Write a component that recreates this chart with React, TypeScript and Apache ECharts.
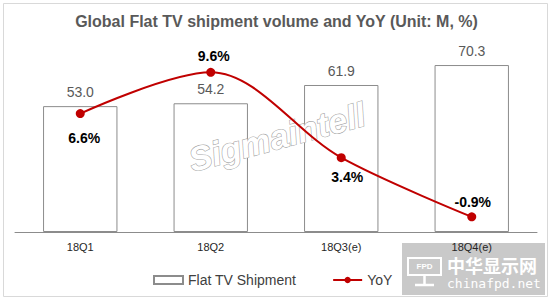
import React, { useEffect, useRef } from "react";
import * as echarts from "echarts";

const categories = ["18Q1", "18Q2", "18Q3(e)", "18Q4(e)"];
const shipment = [53.0, 54.2, 61.9, 70.3];
const yoy = [6.6, 9.6, 3.4, -0.9];

const FONT = "'Liberation Sans', Arial, sans-serif";

// label styling for each YoY point (style only)
const yoyLabelStyle = [
  { position: "bottom", distance: 13, offset: [4, 0] },
  { position: "top", distance: 5, offset: [3, 0] },
  { position: "bottom", distance: 8, offset: [6, 0] },
  { position: "top", distance: 3, offset: [1, 0] },
];

export default function App() {
  const ref = useRef<HTMLDivElement>(null);
  useEffect(() => {
    document.body.style.margin = "0";
    const chart = echarts.init(ref.current!, null, { renderer: "svg" });
    chart.setOption({
      animation: false,
      backgroundColor: "#ffffff",
      title: {
        text: "Global Flat TV shipment volume and YoY (Unit: M, %)",
        left: "center",
        top: 8,
        textStyle: { fontFamily: FONT, fontSize: 16, fontWeight: "bold", color: "#595959" },
      },
      legend: {
        left: 153,
        top: 273,
        padding: 0,
        itemWidth: 29,
        itemHeight: 8,
        itemGap: 36,
        textStyle: { fontFamily: FONT, fontSize: 14, color: "#404040" },
        data: [
          { name: "Flat TV Shipment", icon: "rect" },
          { name: "YoY" },
        ],
      },
      grid: { left: 15, right: 16, top: 42, bottom: 71 },
      xAxis: {
        type: "category",
        data: categories,
        axisLine: { lineStyle: { color: "#8c8c8c", width: 1 } },
        axisTick: { show: false },
        axisLabel: { fontFamily: FONT, fontSize: 11, color: "#262626", margin: 9 },
      },
      yAxis: [
        { type: "value", min: 0, max: 80, show: false },
        { type: "value", min: -2, max: 11.8, show: false },
      ],
      graphic: [
        {
          type: "rect",
          z: -20,
          shape: { x: 3.5, y: 3.5, width: 544, height: 293 },
          style: { fill: "none", stroke: "#d9d9d9", lineWidth: 1 },
        },
        {
          type: "text",
          z: 3,
          x: 277,
          y: 137,
          rotation: (15 * Math.PI) / 180,
          style: {
            text: "Sigmaintell",
            fontFamily: FONT,
            fontSize: 34,
            fontWeight: "bold",
            fontStyle: "italic",
            fill: "#ffffff",
            stroke: "#a6a6a6",
            lineWidth: 1.2,
            align: "center",
            verticalAlign: "middle",
          },
        },
        {
          type: "group",
          z: -10,
          children: [
            { type: "rect", shape: { x: 402, y: 243, width: 143, height: 52 }, style: { fill: "#c9c9c9" } },
            { type: "rect", shape: { x: 408, y: 258, width: 33, height: 17 }, style: { fill: "none", stroke: "#ffffff", lineWidth: 2 } },
            { type: "text", x: 424.5, y: 266.5, style: { text: "FPD", fontFamily: FONT, fontSize: 8, fontWeight: "bold", fill: "#ffffff", align: "center", verticalAlign: "middle" } },
            { type: "line", shape: { x1: 424.5, y1: 275, x2: 424.5, y2: 284 }, style: { stroke: "#ffffff", lineWidth: 2.5 } },
            { type: "line", shape: { x1: 415, y1: 285, x2: 434, y2: 285 }, style: { stroke: "#ffffff", lineWidth: 2.5 } },
            { type: "text", x: 447, y: 265, style: { text: "中华显示网", fontFamily: "'Noto Sans CJK SC', sans-serif", fontSize: 18, fontWeight: "bold", fill: "#ffffff", align: "left", verticalAlign: "middle" } },
            { type: "text", x: 447, y: 283, style: { text: "chinafpd.net", fontFamily: "'DejaVu Sans Mono', monospace", fontSize: 13, fill: "#ffffff", align: "left", verticalAlign: "middle" } },
          ],
        },
      ],
      series: [
        {
          name: "Flat TV Shipment",
          type: "bar",
          z: 2,
          data: shipment,
          barWidth: "57%",
          itemStyle: { color: "#ffffff", borderColor: "#8c8c8c", borderWidth: 1 },
          label: {
            show: true,
            position: "top",
            distance: 7,
            formatter: (p: any) => p.value.toFixed(1),
            fontFamily: FONT,
            fontSize: 14,
            color: "#595959",
          },
        },
        {
          name: "YoY",
          type: "line",
          yAxisIndex: 1,
          smooth: 0.33,
          z: 5,
          symbol: "circle",
          symbolSize: 9,
          lineStyle: { color: "#c00000", width: 2 },
          itemStyle: { color: "#c00000" },
          data: yoy.map((v, i) => ({
            value: v,
            label: {
              position: yoyLabelStyle[i].position,
              distance: yoyLabelStyle[i].distance,
              offset: yoyLabelStyle[i].offset,
            },
          })),
          label: {
            show: true,
            formatter: (p: any) => p.value.toFixed(1) + "%",
            fontFamily: FONT,
            fontSize: 14,
            fontWeight: "bold",
            color: "#000000",
          },
        },
      ],
    });
    return () => chart.dispose();
  }, []);
  return <div ref={ref} style={{ width: 553, height: 303 }} />;
}
